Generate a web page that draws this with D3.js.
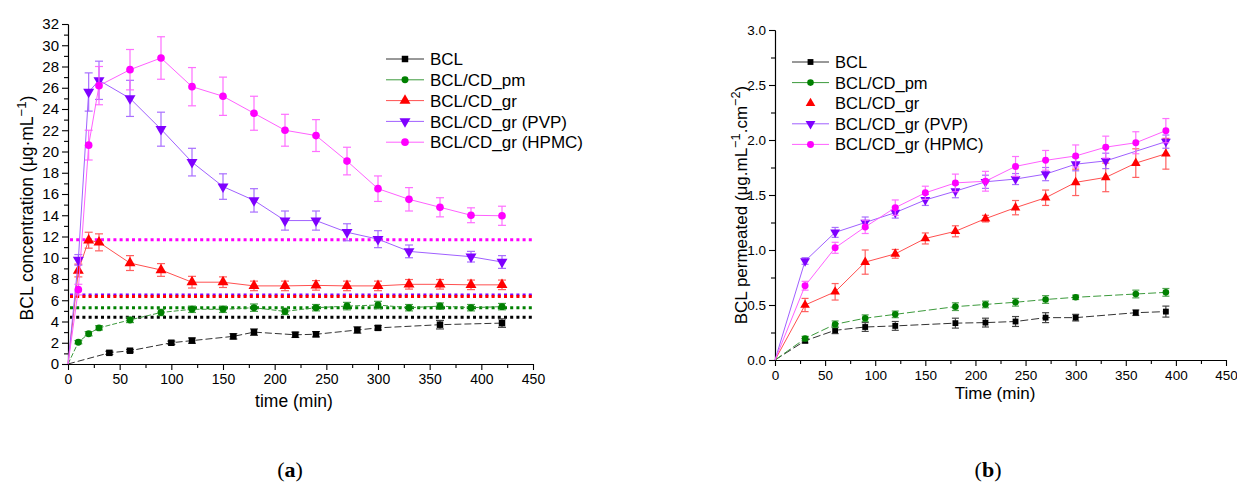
<!DOCTYPE html>
<html>
<head>
<meta charset="utf-8">
<script src="https://cdn.jsdelivr.net/npm/d3@7"></script>
<style>
  body { margin: 0; background: #fff; }
  svg { display: block; font-family: "Liberation Sans", Arial, sans-serif; }
</style>
</head>
<body>
<div id="chart"></div>
<script>
// ---- panel (a): release profiles ----
const aTime = [0, 10, 20, 30, 60, 90, 120, 150, 180, 210, 240, 270, 300, 330, 360, 390, 420];
const aBclTime = [0, 40, 60, 100, 120, 160, 180, 220, 240, 280, 300, 360, 420];
const aBcl = [0, 1.05, 1.25, 2.0, 2.2, 2.6, 3.0, 2.75, 2.8, 3.2, 3.4, 3.7, 3.85];
const aBclErr = [0, 0.15, 0.12, 0.15, 0.25, 0.25, 0.3, 0.25, 0.25, 0.3, 0.2, 0.4, 0.4];
const aPm = [0, 2.05, 2.85, 3.4, 4.15, 4.85, 5.15, 5.15, 5.3, 4.95, 5.3, 5.45, 5.55, 5.3, 5.45, 5.3, 5.4];
const aPmErr = [0, 0.15, 0.2, 0.2, 0.25, 0.3, 0.3, 0.3, 0.35, 0.3, 0.3, 0.35, 0.35, 0.3, 0.3, 0.3, 0.3];
const aGr = [0, 8.8, 11.65, 11.45, 9.5, 8.85, 7.7, 7.7, 7.35, 7.35, 7.4, 7.35, 7.35, 7.5, 7.5, 7.45, 7.45];
const aGrErr = [0, 0.6, 0.75, 0.8, 0.7, 0.6, 0.55, 0.5, 0.45, 0.45, 0.45, 0.45, 0.45, 0.45, 0.45, 0.45, 0.45];
const aPvpTime = [0, 10, 20, 30, 60, 90, 120, 150, 180, 210, 240, 270, 300, 330, 390, 420];
const aPvp = [0, 9.8, 25.6, 26.7, 25.0, 22.1, 19.0, 16.7, 15.4, 13.5, 13.5, 12.4, 11.75, 10.6, 10.1, 9.6];
const aPvpErr = [0, 0.5, 1.8, 1.8, 1.7, 1.6, 1.3, 1.2, 1.1, 0.9, 0.9, 0.8, 0.8, 0.6, 0.5, 0.6];
const aHpmc = [0, 7.0, 20.6, 26.2, 27.7, 28.8, 26.1, 25.2, 23.6, 22.0, 21.5, 19.1, 16.5, 15.5, 14.75, 14.0, 13.95];
const aHpmcErr = [0, 0.5, 1.4, 1.8, 1.9, 2.0, 1.8, 1.8, 1.6, 1.5, 1.5, 1.3, 1.2, 1.1, 0.9, 0.7, 0.9];
// horizontal dotted levels (HPMC, PVP, gr, pm, BCL)
const aLevels = [11.7, 6.5, 6.35, 5.3, 4.4];

// ---- panel (b): permeation profiles ----
const bTime = [0, 30, 60, 90, 120, 150, 180, 210, 240, 270, 300, 330, 360, 390];
const bLowTime = [0, 30, 60, 90, 120, 180, 210, 240, 270, 300, 360, 390];
const bBcl = [0, 0.175, 0.27, 0.30, 0.31, 0.335, 0.34, 0.35, 0.385, 0.385, 0.43, 0.44];
const bBclErr = [0, 0.02, 0.03, 0.04, 0.04, 0.045, 0.04, 0.045, 0.045, 0.03, 0.025, 0.05];
const bPm = [0, 0.195, 0.325, 0.38, 0.415, 0.485, 0.505, 0.525, 0.55, 0.57, 0.60, 0.615];
const bPmErr = [0, 0.02, 0.03, 0.03, 0.03, 0.035, 0.03, 0.035, 0.035, 0.02, 0.035, 0.035];
const bGr = [0, 0.50, 0.62, 0.89, 0.965, 1.105, 1.17, 1.285, 1.385, 1.475, 1.615, 1.66, 1.79, 1.875];
const bGrErr = [0, 0.06, 0.075, 0.11, 0.04, 0.05, 0.05, 0.03, 0.065, 0.07, 0.12, 0.13, 0.13, 0.14];
const bPvpTime = [0, 30, 60, 90, 120, 150, 180, 210, 240, 270, 300, 330, 390];
const bPvp = [0, 0.90, 1.16, 1.25, 1.34, 1.455, 1.535, 1.62, 1.645, 1.69, 1.78, 1.81, 1.985];
const bPvpErr = [0, 0.03, 0.045, 0.05, 0.05, 0.05, 0.06, 0.06, 0.05, 0.06, 0.06, 0.07, 0.06];
const bHpmc = [0, 0.675, 1.02, 1.21, 1.385, 1.52, 1.61, 1.625, 1.76, 1.815, 1.855, 1.935, 1.975, 2.085];
const bHpmcErr = [0, 0.04, 0.05, 0.06, 0.07, 0.06, 0.08, 0.09, 0.09, 0.09, 0.1, 0.1, 0.1, 0.11];

const seriesNames = ['BCL', 'BCL/CD_pm', 'BCL/CD_gr', 'BCL/CD_gr (PVP)', 'BCL/CD_gr (HPMC)'];
const colors = ['#000000', '#008000', '#ff0000', '#7f00ff', '#ff00ff'];
const lineColors = ['#333333', '#3c9a3c', '#ff5050', '#a060ff', '#ff60ff'];
const shapes = ['square', 'circle', 'up', 'down', 'circle'];

const zip = (t, y, e) => t.map((d, i) => ({ t: d, y: y[i], e: e[i] }));

const W = 1237, H = 484;
const svg = d3.select('#chart').append('svg')
  .attr('width', W).attr('height', H);

function marker(shape, size) {
  if (shape === 'square') return d3.symbol(d3.symbolSquare, size)();
  if (shape === 'circle') return d3.symbol(d3.symbolCircle, size)();
  return d3.symbol(d3.symbolTriangle, size)();
}

function drawPanel(cfg) {
  const { x, y, series, fs } = cfg;
  const g = svg.append('g');

  // dotted reference levels
  if (cfg.levels) {
    g.selectAll('.lvl').data(cfg.levels).enter().append('line')
      .attr('x1', x(0) + 2).attr('x2', x(450))
      .attr('y1', d => y(d.v)).attr('y2', d => y(d.v))
      .attr('stroke', d => d.c)
      .attr('stroke-width', 3)
      .attr('stroke-dasharray', '3,3.2');
  }

  // axes
  const xMajor = d3.axisBottom(x).tickValues(d3.range(0, 451, 50)).tickSize(6).tickSizeOuter(0).tickPadding(4);
  const xMinor = d3.axisBottom(x).tickValues(d3.range(25, 451, 50)).tickSize(4).tickSizeOuter(0).tickFormat('');
  const yMajor = d3.axisLeft(y).tickValues(cfg.yTicks).tickSize(6).tickSizeOuter(0).tickPadding(3).tickFormat(cfg.yFmt);
  const yMinor = d3.axisLeft(y).tickValues(cfg.yMinor).tickSize(4).tickSizeOuter(0).tickFormat('');

  const gx = g.append('g').attr('transform', `translate(0,${y(0)})`);
  gx.call(xMajor);
  gx.append('g').call(xMinor);
  const gy = g.append('g').attr('transform', `translate(${x(0)},0)`);
  gy.call(yMajor);
  gy.append('g').call(yMinor);
  g.selectAll('.domain, .tick line').attr('stroke', '#000').attr('stroke-width', 1.1);
  gx.selectAll('text').attr('font-size', fs.xtick + 'px').attr('fill', '#000').attr('font-family', null);
  gy.selectAll('text').attr('font-size', fs.ytick + 'px').attr('fill', '#000').attr('font-family', null);

  // series
  const line = d3.line().x(d => x(d.t)).y(d => y(d.y));
  series.forEach((s, i) => {
    const sg = g.append('g');
    sg.append('path').datum(s.data)
      .attr('d', line)
      .attr('fill', 'none')
      .attr('stroke', lineColors[s.k])
      .attr('stroke-width', 1)
      .attr('stroke-dasharray', s.dash || null);

    const eb = sg.selectAll('.eb').data(s.data.filter(d => d.e > 0)).enter().append('g')
      .attr('stroke', lineColors[s.k]).attr('stroke-width', 1.2).attr('opacity', 0.9);
    eb.append('line').attr('x1', d => x(d.t)).attr('x2', d => x(d.t))
      .attr('y1', d => y(d.y - d.e)).attr('y2', d => y(d.y + d.e));
    [1, -1].forEach(sign => {
      eb.append('line')
        .attr('x1', d => x(d.t) - cfg.cap).attr('x2', d => x(d.t) + cfg.cap)
        .attr('y1', d => y(d.y + sign * d.e)).attr('y2', d => y(d.y + sign * d.e));
    });

    sg.selectAll('.mk').data(s.data.filter(d => d.t > 0)).enter().append('path')
      .attr('d', marker(shapes[s.k], cfg.msize[s.k]))
      .attr('transform', d => `translate(${x(d.t)},${y(d.y)})${shapes[s.k] === 'down' ? ' rotate(180)' : ''}`)
      .attr('fill', colors[s.k]);
  });

  // legend
  const lg = g.append('g').attr('transform', `translate(${cfg.legend.x},${cfg.legend.y})`);
  seriesNames.forEach((name, k) => {
    const row = lg.append('g').attr('transform', `translate(0,${k * cfg.legend.dy})`);
    if (!(cfg.legend.noLine || []).includes(k)) {
      row.append('line').attr('x1', 0).attr('x2', cfg.legend.len)
        .attr('stroke', lineColors[k]).attr('stroke-width', 1);
    }
    row.append('path')
      .attr('d', marker(shapes[k], cfg.msize[k]))
      .attr('transform', `translate(${cfg.legend.len / 2},0)${shapes[k] === 'down' ? ' rotate(180)' : ''}`)
      .attr('fill', colors[k]);
    row.append('text').attr('x', cfg.legend.len + 6).attr('y', 0)
      .attr('dy', '0.36em')
      .attr('font-size', fs.legend + 'px')
      .text(name);
  });

  // axis titles
  g.append('text')
    .attr('x', cfg.xTitle.x).attr('y', cfg.xTitle.y)
    .attr('text-anchor', 'middle')
    .attr('font-size', fs.title + 'px')
    .text(cfg.xTitle.text);

  const yt = g.append('text')
    .attr('transform', `translate(${cfg.yTitle.x},${cfg.yTitle.y}) rotate(-90)`)
    .attr('text-anchor', 'middle')
    .attr('font-size', fs.title + 'px');
  cfg.yTitle.parts.forEach(p => {
    const ts = yt.append('tspan').text(p.t);
    if (p.sup) ts.attr('baseline-shift', 'super').attr('font-size', (fs.title * 0.75) + 'px');
  });

  // panel letter
  const lt = svg.append('text')
    .attr('x', cfg.letter.x).attr('y', cfg.letter.y)
    .attr('text-anchor', 'middle')
    .attr('font-family', '"Liberation Serif", "DejaVu Serif", serif')
    .attr('font-size', '22px');
  lt.append('tspan').text('(');
  lt.append('tspan').attr('font-weight', 'bold').text(cfg.letter.text);
  lt.append('tspan').text(')');
}

// panel (a)
drawPanel({
  x: d3.scaleLinear([0, 450], [68, 533]),
  y: d3.scaleLinear([0, 32], [364, 24]),
  yTicks: d3.range(0, 33, 2),
  yMinor: d3.range(1, 32, 2),
  yFmt: d3.format('d'),
  cap: 4,
  msize: [42, 38, 52, 52, 46],
  fs: { xtick: 14, ytick: 15, legend: 17, title: 17.5 },
  levels: aLevels.map((v, i) => ({ v, c: colors[4 - i] })),
  series: [
    { k: 0, data: zip(aBclTime, aBcl, aBclErr), dash: '7,3' },
    { k: 1, data: zip(aTime, aPm, aPmErr), dash: '5,2' },
    { k: 2, data: zip(aTime, aGr, aGrErr) },
    { k: 3, data: zip(aPvpTime, aPvp, aPvpErr) },
    { k: 4, data: zip(aTime, aHpmc, aHpmcErr) }
  ],
  legend: { x: 386, y: 59, dy: 20.8, len: 38 },
  xTitle: { x: 294, y: 407, text: 'time (min)' },
  yTitle: { x: 33, y: 208, parts: [{ t: 'BCL concentration (μg·mL' }, { t: '−1', sup: true }, { t: ')' }] },
  letter: { x: 290, y: 477, text: 'a' }
});

// panel (b)
drawPanel({
  x: d3.scaleLinear([0, 450], [775, 1226]),
  y: d3.scaleLinear([0, 3], [360, 30]),
  yTicks: d3.range(0, 3.01, 0.5),
  yMinor: d3.range(0.25, 3, 0.5),
  yFmt: d3.format('.1f'),
  cap: 3.5,
  msize: [34, 34, 40, 42, 38],
  fs: { xtick: 13.5, ytick: 13.5, legend: 16.5, title: 17 },
  series: [
    { k: 0, data: zip(bLowTime, bBcl, bBclErr), dash: '8,3' },
    { k: 1, data: zip(bLowTime, bPm, bPmErr), dash: '8,3' },
    { k: 2, data: zip(bTime, bGr, bGrErr) },
    { k: 3, data: zip(bPvpTime, bPvp, bPvpErr) },
    { k: 4, data: zip(bTime, bHpmc, bHpmcErr) }
  ],
  legend: { x: 792, y: 62, dy: 20.6, len: 37, noLine: [2] },
  xTitle: { x: 995, y: 399, text: 'Time (min)' },
  yTitle: { x: 747, y: 205, parts: [{ t: 'BCL permeated (μg.mL' }, { t: '−1', sup: true }, { t: '.cm' }, { t: '−2', sup: true }, { t: ')' }] },
  letter: { x: 988, y: 477, text: 'b' }
});
</script>
</body>
</html>
